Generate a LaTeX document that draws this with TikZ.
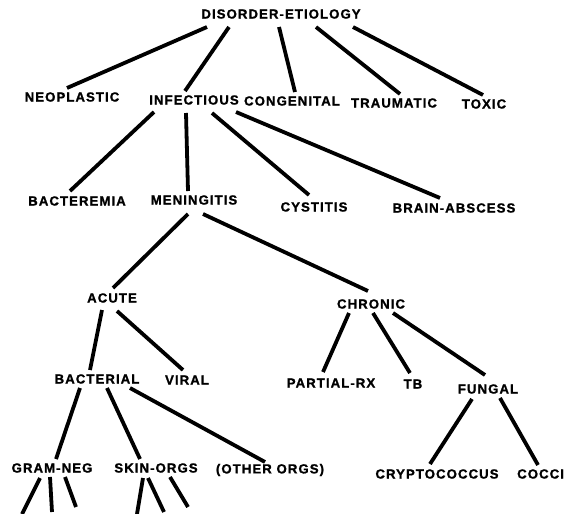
\documentclass[tikz,border=0pt]{standalone}
\usepackage{fontspec}
\setmainfont{Liberation Sans}[LetterSpace=8,FakeBold=1.2]
\begin{document}
\begin{tikzpicture}[x=1pt,y=-1pt,
  lbl/.style={inner sep=0pt,font=\fontsize{13.2}{14}\selectfont\bfseries},
  br/.style={line width=3.8pt}]
\useasboundingbox (0,0) rectangle (573,514);
\clip (0,0) rectangle (573,514);
\fill[white] (0,0) rectangle (573,514);
% nodes
\node[lbl] (de) at (281,14) {DISORDER-ETIOLOGY};
\node[lbl] (neo) at (72,97) {NEOPLASTIC};
\node[lbl] (inf) at (194,100) {INFECTIOUS};
\node[lbl] (con) at (292,101) {CONGENITAL};
\node[lbl] (tra) at (394,103) {TRAUMATIC};
\node[lbl] (tox) at (484,104) {TOXIC};
\node[lbl] (bac) at (77,201) {BACTEREMIA};
\node[lbl] (men) at (194,200) {MENINGITIS};
\node[lbl] (cys) at (314,207) {CYSTITIS};
\node[lbl] (bra) at (454,208) {BRAIN-ABSCESS};
\node[lbl] (acu) at (112,298) {ACUTE};
\node[lbl] (chr) at (371,304) {CHRONIC};
\node[lbl] (bact) at (97,379) {BACTERIAL};
\node[lbl] (vir) at (187,380) {VIRAL};
\node[lbl] (par) at (331,383) {PARTIAL-RX};
\node[lbl] (tb) at (413,384) {TB};
\node[lbl] (fun) at (488,389) {FUNGAL};
\node[lbl] (gram) at (52,468) {GRAM-NEG};
\node[lbl] (skin) at (156,468) {SKIN-ORGS};
\node[lbl] (oth) at (270,470) {(OTHER ORGS)};
\node[lbl] (cry) at (437,474) {CRYPTOCOCCUS};
\node[lbl,anchor=west] (coc) at (517,474) {COCCI};
% free ends of the stubs
\coordinate (g1) at (22,514);
\coordinate (g2) at (52,512);
\coordinate (g3) at (76,507);
\coordinate (s1) at (137,514);
\coordinate (s2) at (164,512);
\coordinate (s3) at (188,507);
% connectors
\draw[br] ([shift={(-74,13)}]de.center) -- ([shift={(-5,-9)}]neo.center);
\draw[br] ([shift={(-52,13)}]de.center) -- ([shift={(-9,-9)}]inf.center);
\draw[br] ([shift={(-2,13)}]de.center) -- ([shift={(3,-9)}]con.center);
\draw[br] ([shift={(35,13)}]de.center) -- ([shift={(6,-9)}]tra.center);
\draw[br] ([shift={(72,13)}]de.center) -- ([shift={(-1,-9)}]tox.center);
\draw[br] ([shift={(-40,12)}]inf.center) -- ([shift={(-7,-10)}]bac.center);
\draw[br] ([shift={(-8,13)}]inf.center) -- ([shift={(-6,-9)}]men.center);
\draw[br] ([shift={(18,13)}]inf.center) -- ([shift={(-5,-12)}]cys.center);
\draw[br] ([shift={(42,12)}]inf.center) -- ([shift={(-14,-10)}]bra.center);
\draw[br] ([shift={(-6,14)}]men.center) -- ([shift={(1,-10)}]acu.center);
\draw[br] ([shift={(9,14)}]men.center) -- ([shift={(-3,-13)}]chr.center);
\draw[br] ([shift={(-10,12)}]acu.center) -- ([shift={(-7,-9)}]bact.center);
\draw[br] ([shift={(5,13)}]acu.center) -- ([shift={(-4,-10)}]vir.center);
\draw[br] ([shift={(-22,9)}]chr.center) -- ([shift={(-8,-11)}]par.center);
\draw[br] ([shift={(2,9)}]chr.center) -- ([shift={(-3,-11)}]tb.center);
\draw[br] ([shift={(22,9)}]chr.center) -- ([shift={(-3,-14)}]fun.center);
\draw[br] ([shift={(-17,9)}]bact.center) -- ([shift={(4,-9)}]gram.center);
\draw[br] ([shift={(10,9)}]bact.center) -- ([shift={(-16,-9)}]skin.center);
\draw[br] ([shift={(33,9)}]bact.center) -- ([shift={(-5,-8)}]oth.center);
\draw[br] ([shift={(-16,10)}]fun.center) -- ([shift={(-7,-10)}]cry.center);
\draw[br] ([shift={(12,9)}]fun.center) -- ([shift={(21,-9)}]coc.west);
\draw[br] ([shift={(-12,10)}]gram.center) -- (g1);
\draw[br] ([shift={(-2,9)}]gram.center) -- (g2);
\draw[br] ([shift={(13,9)}]gram.center) -- (g3);
\draw[br] ([shift={(-13,10)}]skin.center) -- (s1);
\draw[br] ([shift={(-8,10)}]skin.center) -- (s2);
\draw[br] ([shift={(14,9)}]skin.center) -- (s3);
\end{tikzpicture}
\end{document}
